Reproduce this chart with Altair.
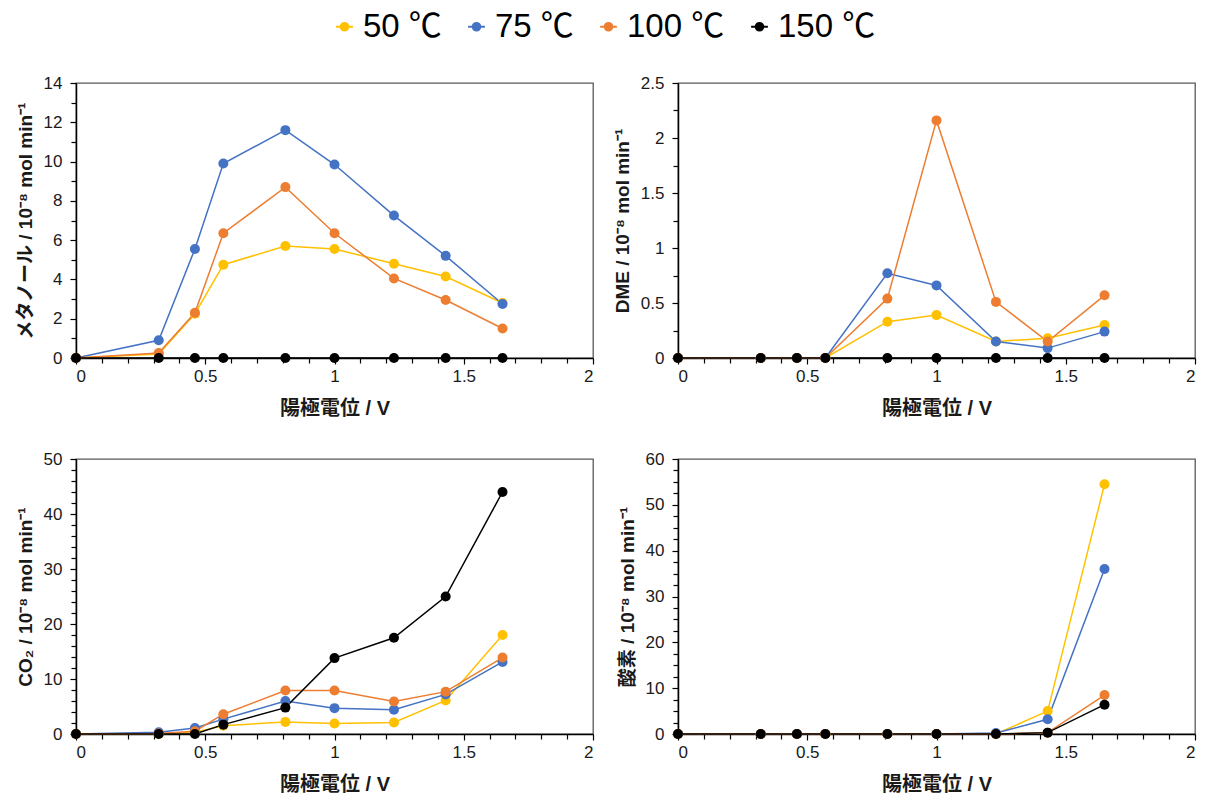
import altair as alt
import pandas as pd

# ---------------- data ----------------
potential = [0, 0.32, 0.46, 0.57, 0.81, 1.0, 1.23, 1.43, 1.65]
series = ["50 ℃", "75 ℃", "100 ℃", "150 ℃"]
colors = ["#FFC000", "#4472C4", "#ED7D31", "#000000"]

meoh_50 = [0, 0.2, 2.25, 4.75, 5.7, 5.55, 4.8, 4.15, 2.8]
meoh_75 = [0, 0.9, 5.55, 9.9, 11.6, 9.85, 7.25, 5.2, 2.75]
meoh_100 = [0, 0.25, 2.3, 6.35, 8.7, 6.35, 4.05, 2.95, 1.5]
meoh_150 = [0, 0, 0, 0, 0, 0, 0, 0, 0]

dme_50 = [0, 0, 0, 0, 0.33, 0.39, 0.15, 0.18, 0.30]
dme_75 = [0, 0, 0, 0, 0.77, 0.66, 0.15, 0.09, 0.24]
dme_100 = [0, 0, 0, 0, 0.54, 2.16, 0.51, 0.15, 0.57]
dme_150 = [0, 0, 0, 0, 0, 0, 0, 0, 0]

co2_50 = [0, 0, 0.3, 1.5, 2.2, 1.9, 2.1, 6.1, 18.0]
co2_75 = [0, 0.3, 1.1, 2.7, 6.0, 4.7, 4.4, 7.2, 13.1]
co2_100 = [0, 0.1, 0.5, 3.6, 7.9, 7.9, 5.9, 7.7, 13.9]
co2_150 = [0, 0, 0, 1.7, 4.8, 13.8, 17.5, 25.0, 44.0]

o2_50 = [0, 0, 0, 0, 0, 0, 0, 5.0, 54.5]
o2_75 = [0, 0, 0, 0, 0, 0, 0.2, 3.2, 36.0]
o2_100 = [0, 0, 0, 0, 0, 0, 0, 0.3, 8.5]
o2_150 = [0, 0, 0, 0, 0, 0, 0, 0.3, 6.4]

x_title = "陽極電位 / V"
y_titles = [
    "メタノール / 10⁻⁸ mol min⁻¹",
    "DME / 10⁻⁸ mol min⁻¹",
    "CO₂ / 10⁻⁸ mol min⁻¹",
    "酸素 / 10⁻⁸ mol min⁻¹",
]

FONT = "Liberation Sans, Arial, Noto Sans CJK JP, sans-serif"


def make_df(vals):
    rows = []
    for s, v in zip(series, vals):
        for x, y in zip(potential, v):
            rows.append({"x": x, "y": y, "series": s})
    return pd.DataFrame(rows)


def ticks(lo, hi, step):
    n = int(round((hi - lo) / step))
    return [round(lo + i * step, 6) for i in range(n + 1)]


legend_path = ("M-0.75,0L0.75,0M0.33,0A0.33,0.33 0 1,1 -0.33,0"
               "A0.33,0.33 0 1,1 0.33,0Z")


def panel(vals, ytitle, ymax, ystep, ymajor):
    df = make_df(vals)
    xv = ticks(0, 2, 0.1)
    yv = ticks(0, ymax, ystep)
    x_major = "abs(datum.value*2 - round(datum.value*2)) < 1e-6"
    y_major = f"abs(datum.value/{ymajor} - round(datum.value/{ymajor})) < 1e-6"
    xaxis = alt.Axis(
        values=xv, format="~g", grid=False, title=x_title,
        labelExpr=f"({x_major}) ? datum.label : ''",
        tickSize={"condition": {"test": x_major, "value": 6}, "value": 5},
        labelPadding=4, titlePadding=14, titleFontSize=20,
    )
    yaxis = alt.Axis(
        values=yv, format="~g", grid=False, title=ytitle,
        labelExpr=f"({y_major}) ? datum.label : ''",
        tickSize={"condition": {"test": y_major, "value": 6}, "value": 5},
        labelPadding=8, titlePadding=8, titleFontSize=19,
    )
    color = alt.Color(
        "series:N",
        scale=alt.Scale(domain=series, range=colors),
        legend=alt.Legend(
            orient="none", legendX=252, legendY=-73, direction="horizontal",
            title=None, symbolType=legend_path, symbolSize=500,
            symbolStrokeWidth=2.2, labelFontSize=33, labelFont=FONT,
            labelColor="#000000", columnPadding=18, labelOffset=2,
        ),
    )
    x = alt.X("x:Q", scale=alt.Scale(domain=[0, 2], nice=False), axis=xaxis)
    y = alt.Y("y:Q", scale=alt.Scale(domain=[0, ymax], nice=False), axis=yaxis)
    base = alt.Chart(df)
    lines = base.mark_line(strokeWidth=1.5).encode(
        x=x, y=y, color=color, order="x:Q")
    pts = base.mark_point(filled=True, size=100, opacity=1).encode(
        x=x, y=y, color=color)
    return alt.layer(lines, pts).properties(width=517, height=275)


p1 = panel([meoh_50, meoh_75, meoh_100, meoh_150], y_titles[0], 14, 1, 2)
p2 = panel([dme_50, dme_75, dme_100, dme_150], y_titles[1], 2.5, 0.25, 0.5)
p3 = panel([co2_50, co2_75, co2_100, co2_150], y_titles[2], 50, 2, 10)
p4 = panel([o2_50, o2_75, o2_100, o2_150], y_titles[3], 60, 2.5, 10)

chart = alt.concat(p1, p2, p3, p4, columns=2, spacing={"row": 30, "column": 17}).properties(
    padding={"left": 7, "top": 2, "right": 5, "bottom": 5}
).configure_view(
    stroke="#595959", strokeWidth=1.3
).configure_axis(
    labelFont=FONT, labelFontSize=17, labelColor="#1a1a1a",
    titleFont=FONT, titleFontSize=17, titleFontWeight="bold", titleColor="#1a1a1a",
    domainColor="#000000", domainWidth=1.5, tickColor="#000000", tickWidth=1.2,
)

chart.save("out.html", embed_options={"renderer": "svg", "actions": False})
